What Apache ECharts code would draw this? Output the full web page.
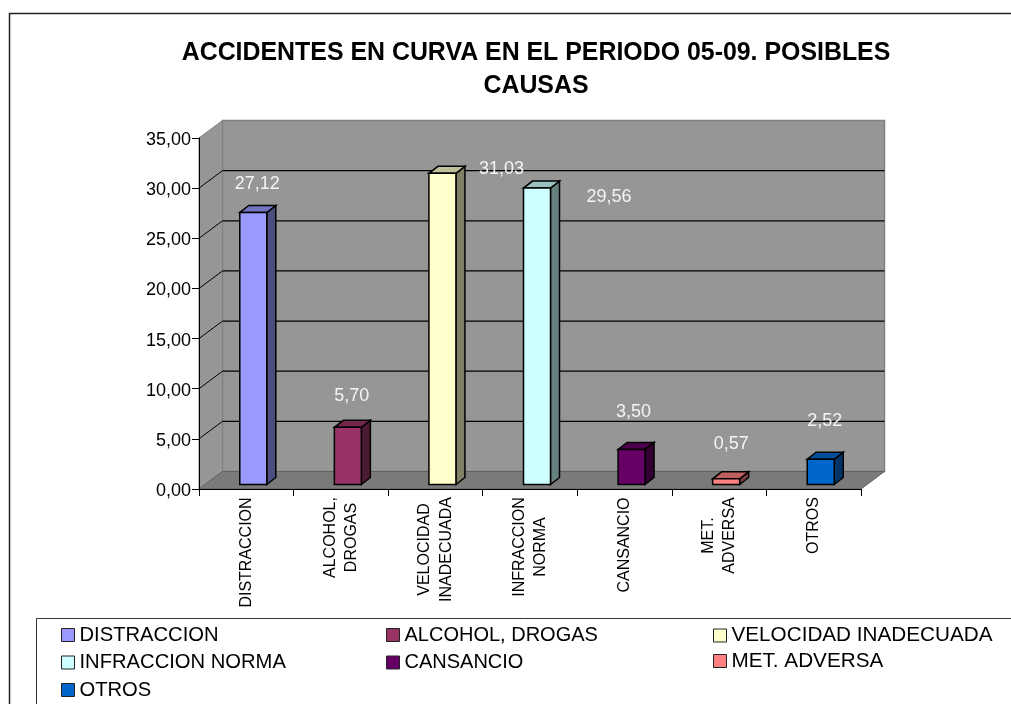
<!DOCTYPE html>
<html>
<head>
<meta charset="utf-8">
<style>html,body{margin:0;padding:0;background:#fff;overflow:hidden}#c{width:1011px;height:704px}</style>
<script src="https://cdn.jsdelivr.net/npm/echarts@6/dist/echarts.min.js"></script>
</head>
<body>
<div id="c"></div>
<script>
const categories = ['DISTRACCION','ALCOHOL, DROGAS','VELOCIDAD INADECUADA','INFRACCION NORMA','CANSANCIO','MET. ADVERSA','OTROS'];
const axisLines = [['DISTRACCION'],['ALCOHOL,','DROGAS'],['VELOCIDAD','INADECUADA'],['INFRACCION','NORMA'],['CANSANCIO'],['MET.','ADVERSA'],['OTROS']];
const values = [27.12,5.70,31.03,29.56,3.50,0.57,2.52];
const yTicks = [0,5,10,15,20,25,30,35];
const frontColors = ['#9999FF','#993366','#FFFFCC','#CCFFFF','#660066','#FF8080','#0066CC'];
const sideColors = ['#4D4D80','#4D1A33','#808066','#668080','#330033','#804040','#003366'];
const topColors = ['#7373BF','#73264D','#BFBF99','#99BFBF','#4D004D','#BF6060','#004D99'];
const labelNudges = [[4,-28.5],[4,-31.5],[59,-4.5],[72,9],[2,-37.5],[5,-34.5],[4,-38.5]];
const legendColumns = [[0,3,6],[1,4],[2,5]];
const legendLefts = [61,386,713];
const legendFontSizes = [20.2,20,20.7];
const legendGaps = [7.5,7.5,4.5];

const FONT = '"Liberation Sans", Arial, sans-serif';
const AXIS_FONT_SIZE = 16;
const DEPTH_X = 23.5, DEPTH_Y = 17.5, BAR_W = 27, BAR_DX = 7, BAR_DY = 4.5, CAP_DX = 9, CAP_DY = 7;
const fmt = v => v.toFixed(2).replace('.', ',');

const measure = document.createElement('canvas').getContext('2d');
measure.font = AXIS_FONT_SIZE + 'px ' + FONT;
const rich = {};
axisLines.forEach((lines, i) => {
  rich['c' + i] = { width: Math.ceil(Math.max(...lines.map(l => measure.measureText(l).width))), align: 'center', fontSize: AXIS_FONT_SIZE, fontFamily: FONT, color: '#000', lineHeight: 21.5 };
});

const poly = (points, fill, stroke, lw) => ({ type: 'polygon', shape: { points }, style: { fill, stroke: stroke || null, lineWidth: lw == null ? 1 : lw } });
const line = (x1, y1, x2, y2, stroke, lw) => ({ type: 'line', shape: { x1, y1, x2, y2 }, style: { stroke, lineWidth: lw || 1 } });

const wallSeries = {
  type: 'custom', name: 'walls', silent: true, z: 1, clip: false, legendHoverLink: false,
  data: [[0, yTicks[yTicks.length - 1]]], encode: { x: 0, y: 1 },
  renderItem(params, api) {
    const c = params.coordSys, L = c.x, R = c.x + c.width, T = c.y, B = c.y + c.height;
    return { type: 'group', children: [
      poly([[L + DEPTH_X, T - DEPTH_Y],[R + DEPTH_X, T - DEPTH_Y],[R + DEPTH_X, B - DEPTH_Y],[L + DEPTH_X, B - DEPTH_Y]], '#969696', '#808080', 1.5),
      poly([[L, T],[L + DEPTH_X, T - DEPTH_Y],[L + DEPTH_X, B - DEPTH_Y],[L, B]], '#969696', '#808080', 1),
      poly([[L, B],[R, B],[R + DEPTH_X, B - DEPTH_Y],[L + DEPTH_X, B - DEPTH_Y]], '#7A7A7A', '#606060', 1)
    ]};
  }
};
const gridSeries = {
  type: 'custom', name: 'grid', silent: true, z: 2, clip: false, legendHoverLink: false,
  data: yTicks.slice(1, -1).map(t => [0, t]), encode: { x: 0, y: 1 },
  renderItem(params, api) {
    const c = params.coordSys, L = c.x, R = c.x + c.width, y = api.coord([0, api.value(1)])[1];
    return { type: 'group', children: [
      line(L, y, L + DEPTH_X, y - DEPTH_Y, '#000'),
      line(L + DEPTH_X, y - DEPTH_Y, R + DEPTH_X, y - DEPTH_Y, '#000', 1.2)
    ]};
  }
};
const barSeries = categories.map((name, i) => ({
  type: 'custom', name, z: 5, clip: false,
  itemStyle: { color: frontColors[i], borderColor: '#000', borderWidth: 1 },
  data: [[i, values[i]]], encode: { x: 0, y: 1 },
  renderItem(params, api) {
    const p0 = api.coord([api.value(0), 0]), p1 = api.coord([api.value(0), api.value(1)]);
    const x0 = p0[0] + BAR_DX - BAR_W / 2, x1 = x0 + BAR_W, yb = p0[1] - BAR_DY, yt = p1[1] - BAR_DY;
    return { type: 'group', children: [
      poly([[x1, yb],[x1 + CAP_DX, yb - CAP_DY],[x1 + CAP_DX, yt - CAP_DY],[x1, yt]], sideColors[i], '#000', 1.5),
      poly([[x0, yt],[x1, yt],[x1 + CAP_DX, yt - CAP_DY],[x0 + CAP_DX, yt - CAP_DY]], topColors[i], '#000', 1.5),
      poly([[x0, yb],[x1, yb],[x1, yt],[x0, yt]], frontColors[i], '#000', 1.5),
      { type: 'text', z2: 20, x: x0 + BAR_W / 2 + labelNudges[i][0], y: yt + labelNudges[i][1],
        style: { text: fmt(api.value(1)), fill: '#F4F4F4', fontSize: 18, fontFamily: FONT, align: 'center', verticalAlign: 'middle' } }
    ]};
  }
}));

const legends = legendColumns.map((col, k) => ({
  orient: 'vertical', left: legendLefts[k], top: 625, padding: 0, itemGap: legendGaps[k],
  itemWidth: 13, itemHeight: 13, icon: 'rect', selectedMode: false,
  itemStyle: { borderColor: '#222', borderWidth: 1 },
  textStyle: { fontSize: legendFontSizes[k], lineHeight: 20, fontFamily: FONT, color: '#000' },
  data: col.map(i => categories[i])
}));

const chart = echarts.init(document.getElementById('c'), null, { renderer: 'canvas' });
chart.setOption({
  animation: false,
  backgroundColor: '#fff',
  title: {
    text: 'ACCIDENTES EN CURVA EN EL PERIODO 05-09. POSIBLES\nCAUSAS',
    left: 536, top: 37, textAlign: 'center', padding: 0,
    textStyle: { fontFamily: FONT, fontWeight: 'bold', fontSize: 24.9, lineHeight: 33, color: '#000' }
  },
  legend: legends,
  grid: { left: 199, top: 138, width: 662, height: 351, containLabel: false },
  xAxis: {
    type: 'category', data: categories, z: 6,
    axisLine: { show: true, lineStyle: { color: '#000', width: 1 } },
    axisTick: { show: true, length: 7, alignWithLabel: false, lineStyle: { color: '#000' } },
    axisLabel: {
      interval: 0, rotate: 90, margin: 8, color: '#000', fontSize: AXIS_FONT_SIZE, fontFamily: FONT, lineHeight: 21.5, rich,
      formatter: (v, i) => axisLines[i].map(l => '{c' + i + '|' + l + '}').join('\n')
    },
    splitLine: { show: false }
  },
  yAxis: {
    type: 'value', min: 0, max: 35, interval: 5, z: 6,
    axisLine: { show: true, lineStyle: { color: '#000', width: 1 } },
    axisTick: { show: true, length: 7, lineStyle: { color: '#000' } },
    axisLabel: { margin: 8, color: '#000', fontSize: 18, lineHeight: 18, fontFamily: FONT, verticalAlign: 'top', padding: [-7, 0, 0, 0], formatter: v => fmt(v) },
    splitLine: { show: false }
  },
  graphic: [
    { type: 'rect', silent: true, z: -1, shape: { x: 9.5, y: 13.5, width: 1100, height: 800 }, style: { fill: 'none', stroke: '#222', lineWidth: 1.5 } },
    { type: 'rect', silent: true, z: -1, shape: { x: 36.5, y: 618.5, width: 1100, height: 200 }, style: { fill: 'none', stroke: '#333', lineWidth: 1 } }
  ],
  series: [wallSeries, gridSeries, ...barSeries]
});
</script>
</body>
</html>
